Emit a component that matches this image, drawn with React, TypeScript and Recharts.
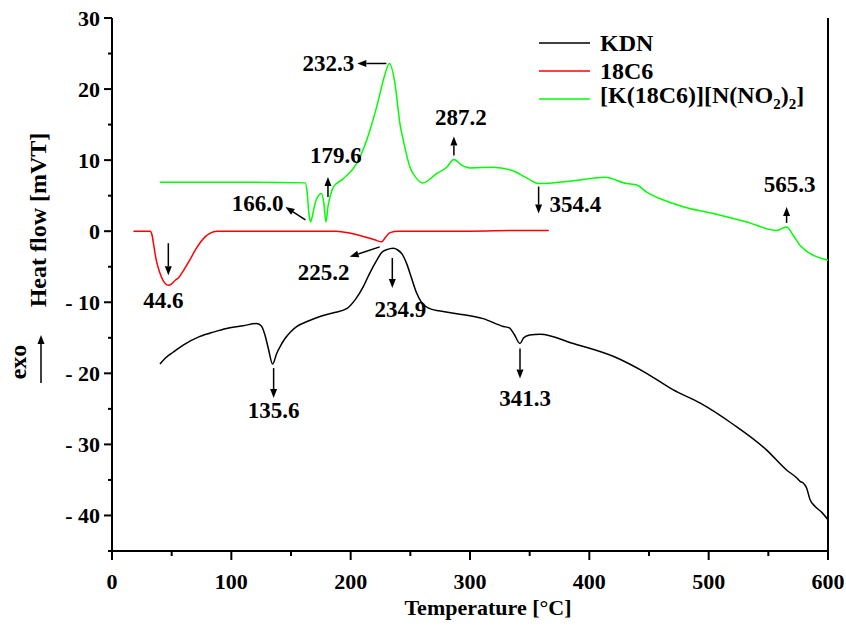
import React from "react";
import { LineChart, Line, XAxis, YAxis, ReferenceLine, ReferenceDot, Legend } from "recharts";

// DSC curves: temperature [°C] and heat flow [mVT]
const kdnTemp = [40.2, 45, 51.4, 60, 73.7, 85, 96, 110, 121, 125, 128, 131, 134.6, 138, 141, 145, 150, 155, 165, 174.3, 185, 196.7, 204, 210.6, 216, 221.8, 226, 230.2, 233, 236, 239, 243, 247, 251, 255, 259, 263, 268, 274, 289, 311, 328, 333, 337, 341.9, 345, 350, 358.7, 386.6, 420, 448, 470, 493, 520.7, 548.6, 565.3, 573.7, 576.6, 579, 582, 585, 589, 595, 600];
const kdnFlow = [-18.7, -17.8, -17.0, -16.0, -14.8, -14.2, -13.7, -13.3, -13.0, -13.3, -14.5, -16.5, -18.7, -17.2, -16.2, -15.1, -14.1, -13.4, -12.6, -12.0, -11.5, -10.9, -9.6, -7.8, -5.9, -4.1, -3.0, -2.6, -2.45, -2.4, -2.6, -3.2, -4.6, -6.6, -8.6, -9.9, -10.6, -11.0, -11.2, -11.6, -12.3, -13.4, -13.6, -14.5, -15.8, -15.0, -14.6, -14.5, -15.8, -17.6, -20.0, -22.3, -24.2, -27.2, -30.8, -33.6, -34.7, -35.2, -35.4, -36.1, -37.8, -38.7, -39.6, -40.6];

const crownTemp = [18, 32, 33.5, 35, 37, 40, 43, 47.2, 50, 53, 56, 60, 65, 70, 74, 78, 82, 88, 120, 150, 188, 200, 210, 220, 226, 229, 233, 240, 300, 340, 366];
const crownFlow = [0, 0, -0.5, -2.0, -4.0, -5.8, -7.0, -7.6, -7.4, -6.9, -6.5, -5.5, -4.1, -2.6, -1.6, -0.8, -0.3, 0, 0, 0, 0, -0.3, -0.7, -1.2, -1.5, -0.9, -0.2, 0, 0, 0.1, 0.1];

const saltTemp = [40, 120, 162, 163.5, 165, 166.3, 168, 170, 173, 175.5, 177.5, 179.3, 181, 183, 185.5, 193.9, 205, 213.4, 221.8, 228.8, 232.4, 237.2, 241.3, 244.1, 249.7, 255.3, 260.4, 272, 280.5, 286.5, 293, 300, 319, 336, 347.5, 357.5, 386.5, 413, 431, 439.7, 448, 470.4, 481.6, 503.9, 531.9, 557, 565.3, 571, 576.6, 600];
const saltFlow = [6.9, 6.9, 6.8, 5.5, 2.5, 1.3, 2.2, 3.8, 5.0, 5.3, 4.0, 1.3, 3.5, 5.0, 6.2, 7.4, 9.5, 12.8, 17.5, 22.1, 23.6, 20.7, 15.1, 12.8, 9.0, 7.4, 6.8, 8.1, 9.0, 10.1, 9.3, 8.9, 9.0, 8.5, 7.5, 6.7, 7.1, 7.6, 6.7, 6.5, 5.5, 3.9, 3.3, 2.5, 1.3, 0.1, 0.6, -0.6, -2.0, -4.1];

const seriesNames = ["KDN", "18C6", "[K(18C6)][N(NO2)2]"];

const xTicks = [0, 50, 100, 150, 200, 250, 300, 350, 400, 450, 500, 550, 600];
const yTicks = [-45, -40, -35, -30, -25, -20, -15, -10, -5, 0, 5, 10, 15, 20, 25, 30];

// peak annotations
const calloutLabels = ["232.3", "287.2", "179.6", "166.0", "354.4", "565.3", "44.6", "225.2", "234.9", "135.6", "341.3"];
const calloutTemps = [232.4, 286.5, 179.3, 166.3, 357.5, 565.3, 47.2, 226, 234.9, 134.6, 341.9];
const calloutFlows = [23.6, 10.1, 1.3, 1.3, 6.7, 0.6, -7.6, -1.5, -2.5, -18.7, -15.8];

// arrow start / end and text offsets in px, relative to the marked point
const calloutLayout = [
  { a: [-3, 0, -32, 0], t: [-35, 0], anchor: "end" },
  { a: [0, -4, 0, -23], t: [7, -42], anchor: "middle" },
  { a: [2, -25, 2, -45], t: [10, -66], anchor: "middle" },
  { a: [-5, -2, -25, -15], t: [-27, -18], anchor: "end" },
  { a: [0, 3, 0, 30], t: [11, 21], anchor: "start" },
  { a: [0, -4, 0, -20], t: [3, -42], anchor: "middle" },
  { a: [0, -42, 0, -10], t: [-5, 15], anchor: "middle" },
  { a: [-2, 5, -32, 15], t: [-58, 31], anchor: "middle" },
  { a: [0, 9, 0, 39], t: [8, 61], anchor: "middle" },
  { a: [1, 4, 1, 34], t: [1, 46], anchor: "middle" },
  { a: [0, 5, 0, 35], t: [5, 55], anchor: "middle" },
];

const FONT = '"Liberation Serif", "Times New Roman", serif';
const COLORS = ["#000000", "#ff0000", "#00ff00"];

const toPoints = (t: number[], v: number[]) => t.map((x, i) => ({ t: x, v: v[i] }));

function Arrow({ x1, y1, x2, y2 }: { x1: number; y1: number; x2: number; y2: number }) {
  const dx = x2 - x1;
  const dy = y2 - y1;
  const len = Math.hypot(dx, dy) || 1;
  const ux = dx / len;
  const uy = dy / len;
  const head = 9;
  const half = 3.5;
  const bx = x2 - ux * head;
  const by = y2 - uy * head;
  const pts = `${x2},${y2} ${bx - uy * half},${by + ux * half} ${bx + uy * half},${by - ux * half}`;
  return (
    <g>
      <line x1={x1} y1={y1} x2={bx} y2={by} stroke="#000" strokeWidth={1.5} />
      <polygon points={pts} fill="#000" />
    </g>
  );
}

function YTick({ x, y, payload }: any) {
  const v = payload.value;
  const major = v % 10 === 0;
  return (
    <g>
      <line x1={x} x2={x - (major ? 8 : 4)} y1={y} y2={y} stroke="#000" strokeWidth={2} />
      {major && (
        <text x={x - 12} y={y} textAnchor="end" dominantBaseline="central" fontFamily={FONT} fontWeight="bold" fontSize={22} fill="#000">
          {v < 0 ? `- ${Math.abs(v)}` : `${v}`}
        </text>
      )}
    </g>
  );
}

function XTick({ x, y, payload }: any) {
  const v = payload.value;
  const major = v % 100 === 0;
  return (
    <g>
      <line x1={x} x2={x} y1={y} y2={y + (major ? 9 : 5)} stroke="#000" strokeWidth={2} />
      {major && (
        <text x={x} y={y + 30} textAnchor="middle" dominantBaseline="central" fontFamily={FONT} fontWeight="bold" fontSize={22} fill="#000">
          {v}
        </text>
      )}
    </g>
  );
}

function YLabel({ viewBox }: any) {
  const { x, y } = viewBox;
  return (
    <g fontFamily={FONT} fontWeight="bold" fill="#000">
      <text x={x + 38} y={y + 202} transform={`rotate(-90 ${x + 38} ${y + 202})`} textAnchor="middle" dominantBaseline="central" fontSize={24}>
        Heat flow [mVT]
      </text>
      <text x={x + 18} y={y + 344} transform={`rotate(-90 ${x + 18} ${y + 344})`} textAnchor="middle" dominantBaseline="central" fontSize={24}>
        exo
      </text>
      <Arrow x1={x + 41} y1={y + 365} x2={x + 41} y2={y + 317} />
    </g>
  );
}

function XLabel({ viewBox }: any) {
  const { x, y, width } = viewBox;
  return (
    <text x={x + width / 2 + 18} y={y + 56} textAnchor="middle" dominantBaseline="central" fontFamily={FONT} fontWeight="bold" fontSize={22} fill="#000">
      Temperature [°C]
    </text>
  );
}

const renderName = (name: string) =>
  name === seriesNames[2] ? (
    <>
      [K(18C6)][N(NO<sub style={{ fontSize: 15 }}>2</sub>)<sub style={{ fontSize: 15 }}>2</sub>]
    </>
  ) : (
    name
  );

function LegendBox({ payload }: any) {
  const items = [...(payload || [])].sort((a: any, b: any) => seriesNames.indexOf(a.value) - seriesNames.indexOf(b.value));
  return (
    <div style={{ fontFamily: FONT, fontWeight: "bold", fontSize: 24, color: "#000" }}>
      {items.map((p: any) => (
        <div key={p.value} style={{ display: "flex", alignItems: "center", height: 28, lineHeight: "28px" }}>
          <svg width={64} height={28}>
            <line x1={3} x2={54} y1={14} y2={14} stroke={p.color} strokeWidth={1.5} />
          </svg>
          <span style={{ whiteSpace: "nowrap" }}>{renderName(p.value)}</span>
        </div>
      ))}
    </div>
  );
}

function Callout(props: any) {
  const { cx, cy, index } = props;
  const L = calloutLayout[index];
  return (
    <g>
      <Arrow x1={cx + L.a[0]} y1={cy + L.a[1]} x2={cx + L.a[2]} y2={cy + L.a[3]} />
      <text x={cx + L.t[0]} y={cy + L.t[1]} textAnchor={L.anchor} dominantBaseline="central" fontFamily={FONT} fontWeight="bold" fontSize={23} fill="#000">
        {calloutLabels[index]}
      </text>
    </g>
  );
}

export default function App() {
  const series = [toPoints(kdnTemp, kdnFlow), toPoints(crownTemp, crownFlow), toPoints(saltTemp, saltFlow)];
  return (
    <div style={{ position: "absolute", left: 0, top: 0, background: "#fff" }}>
      <LineChart width={846} height={627} margin={{ top: 18, right: 18, left: 0, bottom: 0 }}>
        <XAxis
          type="number"
          dataKey="t"
          domain={[0, 600]}
          ticks={xTicks}
          interval={0}
          height={76}
          tickSize={0}
          tickMargin={0}
          tickLine={false}
          axisLine={{ stroke: "#000", strokeWidth: 2 }}
          tick={<XTick />}
          label={<XLabel />}
          allowDataOverflow
        />
        <YAxis
          type="number"
          domain={[-45, 30]}
          ticks={yTicks}
          interval={0}
          width={112}
          tickSize={0}
          tickMargin={0}
          tickLine={false}
          axisLine={{ stroke: "#000", strokeWidth: 2 }}
          tick={<YTick />}
          label={<YLabel />}
          allowDataOverflow
        />
        <ReferenceLine x={600} stroke="#000" strokeWidth={2} />
        {series.map((d, i) => (
          <Line
            key={seriesNames[i]}
            data={d}
            dataKey="v"
            name={seriesNames[i]}
            type="monotone"
            stroke={COLORS[i]}
            strokeWidth={1.5}
            dot={false}
            activeDot={false}
            isAnimationActive={false}
          />
        ))}
        {calloutLabels.map((lab, i) => (
          <ReferenceDot
            key={lab}
            x={calloutTemps[i]}
            y={calloutFlows[i]}
            r={0}
            shape={(p: any) => <Callout {...p} index={i} />}
          />
        ))}
        <Legend
          layout="horizontal"
          verticalAlign="middle"
          align="center"
          content={<LegendBox />}
          wrapperStyle={{ top: 29, left: 536, width: 300 }}
        />
      </LineChart>
    </div>
  );
}
